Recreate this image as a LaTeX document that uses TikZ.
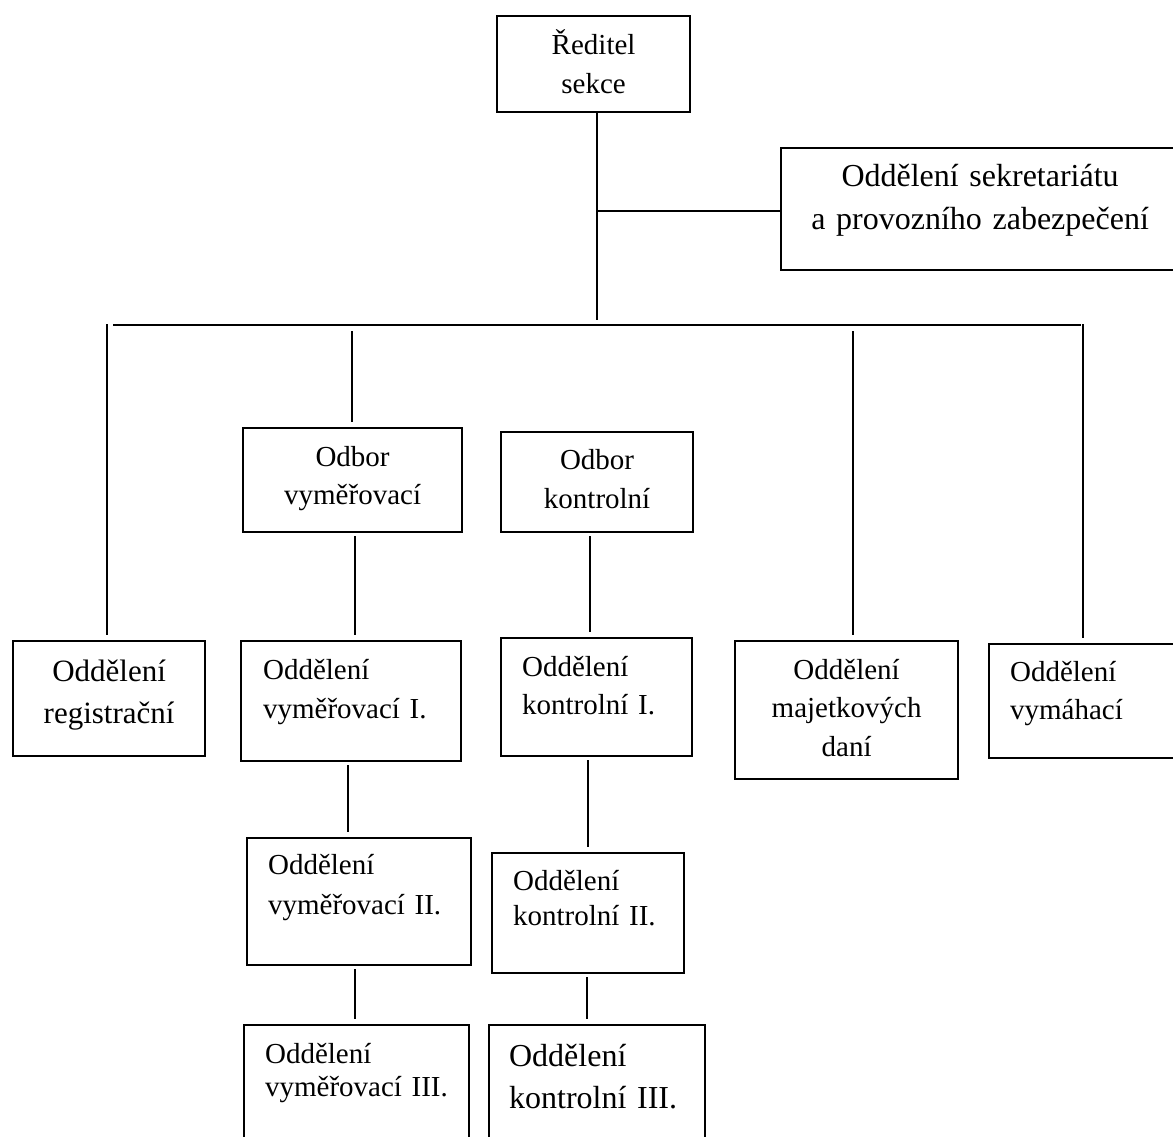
\documentclass[tikz,border=0pt]{standalone}
\usepackage{fontspec}
\setmainfont{Liberation Serif}
\newcommand{\txtsize}[2]{\fontsize{#1}{#2}\selectfont}

\begin{document}
\begin{tikzpicture}[x=1pt,y=-1pt]
    \tikzstyle{unit}=[draw=black,line width=2.2pt,rectangle,anchor=north west,inner ysep=0pt,inner xsep=5pt,align=center,font=\txtsize{29}{38}]
    \tikzstyle{inset}=[unit,inner xsep=21pt,align=left]
    \tikzstyle{link}=[line width=1.8pt,shorten >=5pt,shorten <=3pt]
    \clip (0,0) rectangle (1173,1136);

    \node[unit,text width=183pt,text height=38pt,text depth=58pt,font=\txtsize{29}{39}] (dir) at (496,15) {Ředitel\\sekce};
    \node[unit,text width=388pt,text height=38pt,text depth=84pt,font=\txtsize{32}{43}] (sek) at (780,147) {Oddělení sekretariátu\\a provozního zabezpečení};

    \node[unit,text width=182pt,text height=40pt,text depth=75pt,font=\txtsize{31}{42}] (reg) at (12,640) {Oddělení\\registrační};
    \node[unit,text width=209pt,text height=38pt,text depth=66pt] (ovym) at (242,427) {Odbor\\vyměřovací};
    \node[unit,text width=182pt,text height=37pt,text depth=63pt,font=\txtsize{29}{39}] (okon) at (500,431) {Odbor\\kontrolní};
    \node[unit,text width=213pt,text height=38pt,text depth=100pt,font=\txtsize{29}{38.5}] (maj) at (734,640) {Oddělení\\majetkových\\daní};
    \node[inset,text width=155pt,text height=37pt,text depth=77pt] (vymah) at (988,643) {Oddělení\\vymáhací};

    \node[inset,inner xsep=22pt,text width=176pt,text height=38pt,text depth=82pt,font=\txtsize{29}{39}] (vym1) at (240,640) {Oddělení\\vyměřovací~I.};
    \node[inset,text width=182pt,text height=36pt,text depth=91pt,font=\txtsize{29}{40}] (vym2) at (246,837) {Oddělení\\vyměřovací~II.};
    \node[inset,text width=183pt,text height=38pt,text depth=130pt,font=\txtsize{29}{33}] (vym3) at (243,1024) {Oddělení\\vyměřovací~III.};

    \node[inset,text width=149pt,text height=38pt,text depth=80pt] (kon1) at (500,637) {Oddělení\\kontrolní~I.};
    \node[inset,text width=150pt,text height=37pt,text depth=83pt,font=\txtsize{29}{35}] (kon2) at (491,852) {Oddělení\\kontrolní~II.};
    \node[inset,inner xsep=20pt,text width=176pt,text height=41pt,text depth=130pt,font=\txtsize{32}{42}] (kon3) at (488,1024) {Oddělení\\kontrolní~III.};

    \coordinate (hub) at (597,211);
    \coordinate (drop) at (597,320);
    \coordinate (busL) at (113,325);
    \coordinate (busR) at (1081,325);

    \draw[line width=1.8pt] (dir.south -| hub) -- (drop);
    \draw[line width=1.8pt] (hub) -- (hub -| sek.west);
    \draw[line width=1.8pt] (busL) -- (busR);

    \foreach \u/\x/\y in {reg/107/321, ovym/352/328, maj/853/328, vymah/1083/321}
    {
        \coordinate (b-\u) at (\x,\y);
        \draw[link] (b-\u) -- (b-\u |- \u.north);
    }

    \foreach \from/\to/\x in {ovym/vym1/355, vym1/vym2/348, vym2/vym3/355, okon/kon1/590, kon1/kon2/588, kon2/kon3/587}
        \draw[link] (\from.south -| \x,0) -- (\to.north -| \x,0);
\end{tikzpicture}
\end{document}
